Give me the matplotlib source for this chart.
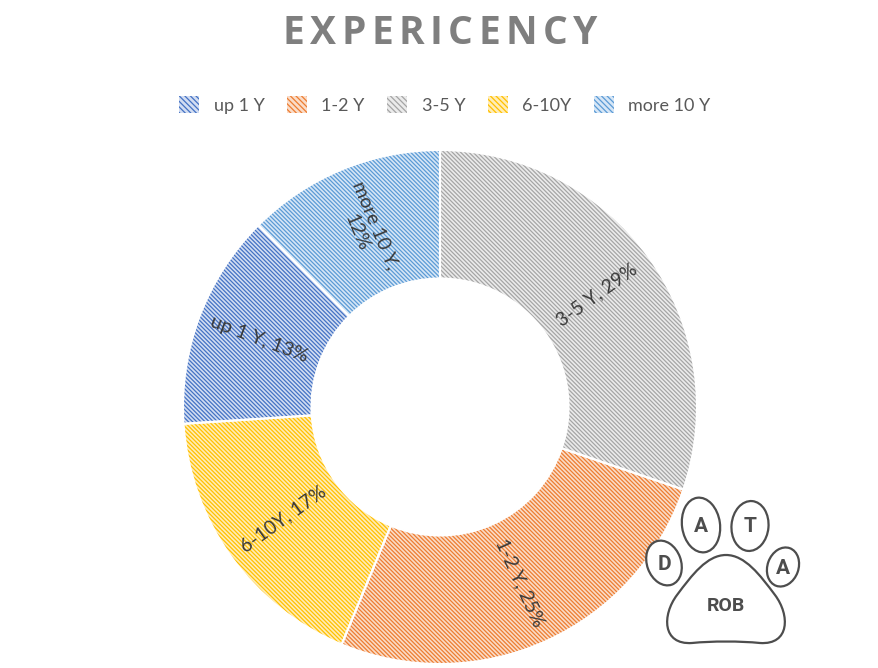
import matplotlib
matplotlib.use("Agg")
import matplotlib.pyplot as plt
import numpy as np
from matplotlib.patches import Patch, Ellipse, PathPatch
from matplotlib.path import Path

# ---- data ----
categories = ["3-5 Y", "1-2 Y", "6-10Y", "up 1 Y", "more 10 Y"]
values = [29, 25, 17, 13, 12]
legend_order = ["up 1 Y", "1-2 Y", "3-5 Y", "6-10Y", "more 10 Y"]
label_text = ["3-5 Y, 29%", "1-2 Y, 25%", "6-10Y, 17%", "up 1 Y, 13%", "more 10 Y,\n12%"]
title = "EXPERICENCY"

colors = {"up 1 Y": "#4472C4", "1-2 Y": "#ED7D31", "3-5 Y": "#A5A5A5",
          "6-10Y": "#FFC000", "more 10 Y": "#5B9BD5"}
tints = {"up 1 Y": "#D2DDF2", "1-2 Y": "#FADCC8", "3-5 Y": "#EBEBEB",
         "6-10Y": "#FFEDB8", "more 10 Y": "#D6E6F6"}
HATCH = "\\" * 8

W, H, DPI = 879, 668, 100
plt.rcParams["hatch.linewidth"] = 0.9
fig = plt.figure(figsize=(W / DPI, H / DPI), dpi=DPI)

cx, cy, R = 440, 407, 257
ax = fig.add_axes([(cx - R) / W, (H - cy - R) / H, 2 * R / W, 2 * R / H])

width = 0.5
wedges, _ = ax.pie(values, startangle=90, counterclock=False, radius=1,
                   colors=[tints[c] for c in categories],
                   wedgeprops=dict(width=width, linewidth=0))
for w, c in zip(wedges, categories):
    w.set_edgecolor(colors[c])
    w.set_linewidth(0)
    w.set_hatch(HATCH)
# white borders
ax.pie(values, startangle=90, counterclock=False, radius=1,
       wedgeprops=dict(width=width, fill=False, edgecolor="white", linewidth=1.5))
ax.set_xlim(-1, 1)
ax.set_ylim(-1, 1)
ax.set_aspect("auto")
ax.axis("off")

total = sum(values)
start = 90.0
rl = 1 - width / 2
for v, txt in zip(values, label_text):
    span = 360.0 * v / total
    mid = start - span / 2
    start -= span
    a = np.deg2rad(mid)
    rot = mid
    while rot > 90:
        rot -= 180
    while rot < -90:
        rot += 180
    ax.text(rl * np.cos(a), rl * np.sin(a), txt, rotation=rot, rotation_mode="anchor",
            ha="center", va="center", fontsize=14, color="#3A3A3A",
            family="Lato", multialignment="center", linespacing=1.25)

# title with letter spacing
canvas = fig.canvas
renderer = canvas.get_renderer()
tprops = dict(fontsize=28, fontweight="bold", color="#7F7F7F", family="Open Sans")
widths = []
for ch in title:
    t = fig.text(0, 0, ch, **tprops)
    widths.append(t.get_window_extent(renderer).width)
    t.remove()
spacing = 5.5
total_w = sum(widths) + spacing * (len(title) - 1)
x = 440 - total_w / 2
for ch, wd in zip(title, widths):
    fig.text(x / W, 1 - 34 / H, ch, ha="left", va="center", **tprops)
    x += wd + spacing

# legend
handles = [Patch(facecolor=tints[c], edgecolor=colors[c], hatch="\\" * 6, linewidth=0)
           for c in legend_order]
leg = fig.legend(handles, legend_order, loc="center", bbox_to_anchor=(445 / W, 1 - 105 / H),
                 ncol=5, frameon=False, handlelength=1.1, handleheight=1.1,
                 columnspacing=1.25, handletextpad=0.8, labelcolor="#595959",
                 prop={"family": "Lato", "size": 13})

# logo overlay in pixel coords
lax = fig.add_axes([0, 0, 1, 1], zorder=5)
lax.set_xlim(0, W)
lax.set_ylim(H, 0)
lax.axis("off")
lc = "#4D4D4D"
toes = [(664, 563, 34, 46, 20, "D"), (701, 525, 38, 55, 8, "A"),
        (750, 526, 37, 50, -5, "T"), (783, 567, 31, 40, -20, "A")]
for x0, y0, w_, h_, ang, t in toes:
    lax.add_patch(Ellipse((x0, y0), w_, h_, angle=-ang, facecolor="white",
                          edgecolor=lc, linewidth=1.6))
    lax.text(x0, y0 + 1, t, ha="center", va="center", fontsize=15, fontweight="bold",
             color=lc, family="Roboto")
verts = [(726, 555),
         (745, 555), (760, 575), (775, 595),
         (790, 615), (790, 645), (760, 643),
         (740, 641), (712, 641), (692, 643),
         (662, 645), (662, 615), (677, 595),
         (692, 575), (707, 555), (726, 555)]
codes = [Path.MOVETO] + [Path.CURVE4] * 15
lax.add_patch(PathPatch(Path(verts, codes), facecolor="white", edgecolor=lc, linewidth=1.6))
lax.text(726, 606, "ROB", ha="center", va="center", fontsize=14, fontweight="bold",
         color=lc, family="Roboto")

fig.savefig("out.png", dpi=DPI)
